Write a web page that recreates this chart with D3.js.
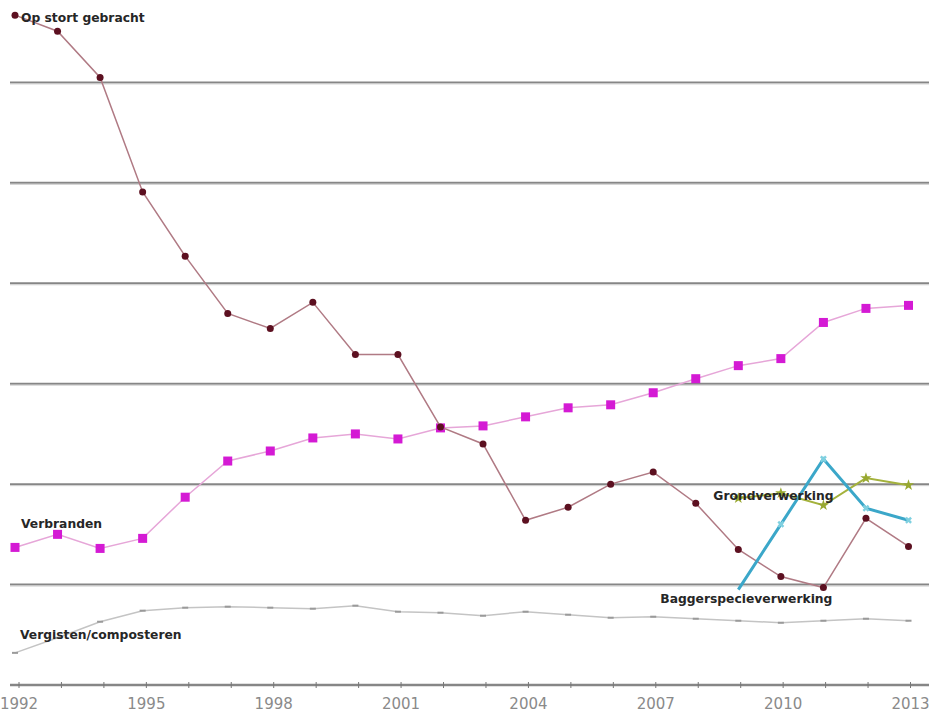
<!DOCTYPE html>
<html>
<head>
<meta charset="utf-8">
<script src="https://cdnjs.cloudflare.com/ajax/libs/d3/7.8.5/d3.min.js"></script>
<style>
  body { margin: 0; background: #fff; }
  .lbl { font-family: "DejaVu Sans", Verdana, sans-serif; font-weight: bold; font-size: 12.3px; fill: #262626; }
  .x-axis text { font-family: "DejaVu Sans", Verdana, sans-serif; font-size: 15px; fill: #8a8a8a; }
</style>
</head>
<body>
<div id="chart"></div>
<script>
// jaren 1992 - 2013
const years = d3.range(1992, 2014);
const tickYears = [1992, 1995, 1998, 2001, 2004, 2007, 2010, 2013];

const opStort = [6.67, 6.51, 6.05, 4.91, 4.27, 3.70, 3.55, 3.81, 3.29, 3.29, 2.57,
                 2.40, 1.64, 1.77, 2.00, 2.12, 1.81, 1.35, 1.08, 0.97, 1.66, 1.38];
const verbranden = [1.37, 1.50, 1.36, 1.46, 1.87, 2.23, 2.33, 2.46, 2.50, 2.45, 2.56,
                    2.58, 2.67, 2.76, 2.79, 2.91, 3.05, 3.18, 3.25, 3.61, 3.75, 3.78];
const vergisten = [0.32, 0.47, 0.63, 0.74, 0.77, 0.78, 0.77, 0.76, 0.79, 0.73, 0.72,
                   0.69, 0.73, 0.70, 0.67, 0.68, 0.66, 0.64, 0.62, 0.64, 0.66, 0.64];
// alleen 2009 - 2013
const lateYears = [2009, 2010, 2011, 2012, 2013];
const bagger = [0.95, 1.60, 2.25, 1.76, 1.64];
const grond = [1.86, 1.91, 1.79, 2.06, 1.99];

const width = 929, height = 713;

const svg = d3.select('#chart').append('svg')
    .attr('width', width)
    .attr('height', height);

const x = d3.scaleLinear().domain([1992, 2013]).range([15, 908.5]);
const y = d3.scaleLinear().domain([0, 7]).range([685, -18]);
// jaartallen staan iets rechts van de punten
const xLabel = d3.scaleLinear().domain([1992, 2013]).range([18.5, 910]);

// rasterlijnen
const grid = svg.append('g');
[1, 2, 3, 4, 5, 6].forEach(v => {
    grid.append('line')
        .attr('x1', 10).attr('x2', width)
        .attr('y1', y(v)).attr('y2', y(v))
        .attr('stroke', '#868686').attr('stroke-width', 2);
    grid.append('line')
        .attr('x1', 10).attr('x2', width)
        .attr('y1', y(v) + 1.5).attr('y2', y(v) + 1.5)
        .attr('stroke', '#cfcfcf').attr('stroke-width', 1);
});

// x-as
const xAxis = d3.axisBottom(xLabel)
    .tickValues(years)
    .tickSizeInner(3)
    .tickSizeOuter(0)
    .tickPadding(10)
    .tickFormat(d => tickYears.includes(d) ? d : '');
const axisG = svg.append('g')
    .attr('class', 'x-axis')
    .attr('transform', `translate(0,${y(0)})`)
    .call(xAxis);
axisG.select('.domain').remove();
axisG.insert('line', ':first-child')
    .attr('x1', 10).attr('x2', width)
    .attr('stroke', '#868686').attr('stroke-width', 2.5);
axisG.selectAll('.tick line')
    .attr('y1', -3).attr('y2', 3)
    .attr('stroke', '#777');

const line = d3.line().x(d => x(d[0])).y(d => y(d[1]));

// vergisten / composteren
const vergData = years.map((yr, i) => [yr, vergisten[i]]);
svg.append('path')
    .attr('d', line(vergData))
    .attr('fill', 'none')
    .attr('stroke', '#c4c4c4')
    .attr('stroke-width', 1.5);
svg.append('g').selectAll('rect').data(vergData).join('rect')
    .attr('x', d => x(d[0]) - 3).attr('y', d => y(d[1]) - 1)
    .attr('width', 6).attr('height', 2)
    .attr('fill', '#9a9a9a');

// verbranden
const verbData = years.map((yr, i) => [yr, verbranden[i]]);
svg.append('path')
    .attr('d', line(verbData))
    .attr('fill', 'none')
    .attr('stroke', '#e6a6d8')
    .attr('stroke-width', 1.5);
svg.append('g').selectAll('rect').data(verbData).join('rect')
    .attr('x', d => x(d[0]) - 4.5).attr('y', d => y(d[1]) - 4.5)
    .attr('width', 9).attr('height', 9)
    .attr('fill', '#d41ad4');

// op stort gebracht
const stortData = years.map((yr, i) => [yr, opStort[i]]);
svg.append('path')
    .attr('d', line(stortData))
    .attr('fill', 'none')
    .attr('stroke', '#b07a84')
    .attr('stroke-width', 1.5);
svg.append('g').selectAll('circle').data(stortData).join('circle')
    .attr('cx', d => x(d[0])).attr('cy', d => y(d[1]))
    .attr('r', 3.5)
    .attr('fill', '#5c1020');

// grondverwerking
const grondData = lateYears.map((yr, i) => [yr, grond[i]]);
svg.append('path')
    .attr('d', line(grondData))
    .attr('fill', 'none')
    .attr('stroke', '#a4b23c')
    .attr('stroke-width', 2);
svg.append('g').selectAll('path').data(grondData).join('path')
    .attr('transform', d => `translate(${x(d[0])},${y(d[1])})`)
    .attr('d', d3.symbol(d3.symbolStar, 40))
    .attr('fill', '#98a830');

// baggerspecieverwerking
const baggerData = lateYears.map((yr, i) => [yr, bagger[i]]);
svg.append('path')
    .attr('d', line(baggerData))
    .attr('fill', 'none')
    .attr('stroke', '#3ba7c9')
    .attr('stroke-width', 3);
svg.append('g').selectAll('path').data(baggerData.slice(1)).join('path')
    .attr('transform', d => `translate(${x(d[0])},${y(d[1])}) rotate(45)`)
    .attr('d', d3.symbol(d3.symbolCross, 30))
    .attr('fill', '#7fd0e0');

// labels
svg.append('text').attr('class', 'lbl')
    .attr('x', x(1992) + 6).attr('y', y(opStort[0]) + 7)
    .text('Op stort gebracht');
svg.append('text').attr('class', 'lbl')
    .attr('x', 21).attr('y', y(1.56))
    .text('Verbranden');
svg.append('text').attr('class', 'lbl')
    .attr('x', 20).attr('y', y(0.46))
    .text('Vergisten/composteren');
svg.append('text').attr('class', 'lbl')
    .attr('x', x(2009) - 25).attr('y', y(1.845))
    .text('Grondverwerking');
svg.append('text').attr('class', 'lbl')
    .attr('x', x(2009) - 78).attr('y', y(0.82))
    .text('Baggerspecieverwerking');
</script>
</body>
</html>
